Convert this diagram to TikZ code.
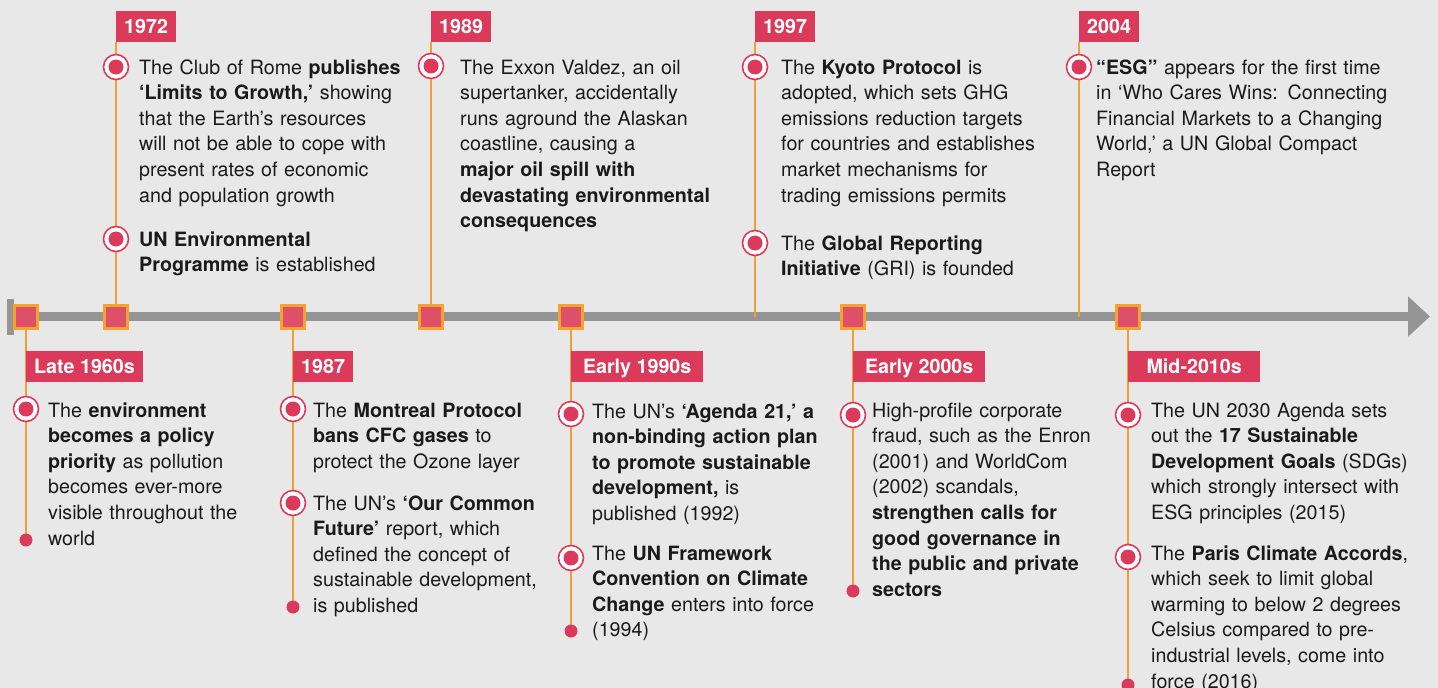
\documentclass[tikz,border=0pt]{standalone}
\usepackage{fontspec}
\setmainfont{TeX Gyre Heros}
\usetikzlibrary{arrows.meta}
\pgfdeclarelayer{back}
\pgfdeclarelayer{bg}
\pgfsetlayers{back,bg,main}
\definecolor{paper}{HTML}{E8E8E8}
\definecolor{crim}{HTML}{DB3A5B}
\definecolor{sqpink}{HTML}{DE5069}
\definecolor{amber}{HTML}{F5A32A}
\definecolor{stemor}{HTML}{EFA035}
\definecolor{axisgrey}{HTML}{959595}
\definecolor{ink}{HTML}{1A1A1A}
\newcommand\notefont{\fontsize{19.7}{25.6}\selectfont}
\newcommand\yearfont{\fontsize{19.7}{22}\selectfont\bfseries}
\begin{document}
\begin{tikzpicture}[x=1pt, y=-1pt,
	sq/.style={rectangle, fill=sqpink, draw=amber, line width=3pt, minimum size=23pt, inner sep=0pt},
	yearbox/.style={fill=crim, text=white, font=\yearfont, anchor=north west, inner xsep=8pt, inner ysep=0pt, minimum height=31pt, text height=14pt, text depth=0pt},
	widebox/.style={yearbox, minimum width=132pt},
	ring/.style={circle, fill=white, draw=crim, line width=1.6pt, minimum size=25pt, inner sep=0pt, path picture={\fill[crim] (path picture bounding box.center) circle (7.5pt);}},
	enddot/.style={circle, fill=crim, minimum size=13pt, inner sep=0pt},
	note/.style={anchor=base west, inner sep=0pt, text width=330pt, align=left, font=\notefont, text=ink},
	stem/.style={line width=1.5pt, color=stemor}]

	\useasboundingbox (0,0) rectangle (1438,688);
	\begin{pgfonlayer}{back}
		\fill[paper] (0,0) rectangle (1438,688);
	\end{pgfonlayer}

	% axis
	\node[rectangle, fill=axisgrey, minimum width=7pt, minimum height=36pt, inner sep=0pt](cap) at (10.5,316.5){};
	\coordinate (tip) at (1430,316.5);
	\coordinate (a97) at (755,316.5);
	\coordinate (a04) at (1079,316.5);

	\node[sq](s60) at (26,316.5){};
	\node[sq](s72) at (116,316.5){};
	\node[sq](s87) at (293,316.5){};
	\node[sq](s89) at (431,316.5){};
	\node[sq](s90) at (571,316.5){};
	\node[sq](s00) at (853,316.5){};
	\node[sq](s10) at (1128,316.5){};

	% year labels
	\node[yearbox](y72) at (116,11){1972};
	\node[yearbox](y89) at (431,11){1989};
	\node[yearbox](y97) at (755,11){1997};
	\node[yearbox](y04) at (1079,11){2004};
	\node[yearbox](y60) at (26,351){Late 1960s};
	\node[yearbox](y87) at (293,351){1987};
	\node[widebox](y90) at (571,351){Early 1990s};
	\node[widebox](y00) at (853,351){Early 2000s};
	\node[widebox](y10) at (1128,351){Mid-2010s};

	% end dots
	\node[enddot](d60) at (26,540){};
	\node[enddot](d87) at (293,607){};
	\node[enddot](d90) at (571,631){};
	\node[enddot](d00) at (853,591){};
	\node[enddot](d10) at (1128,685){};

	\begin{pgfonlayer}{bg}
		\draw[line width=8.5pt, color=axisgrey, -{Triangle[width=39pt, length=22pt]}] (cap.center) -- (tip);
		\draw[stem] (s72 |- y72.south) -- (s72.north);
		\draw[stem] (s89 |- y89.south) -- (s89.north);
		\draw[stem] (a97 |- y97.south) -- (a97);
		\draw[stem] (a04 |- y04.south) -- (a04);
		\draw[stem] (s60.south) -- (d60.center);
		\draw[stem] (s87.south) -- (d87.center);
		\draw[stem] (s90.south) -- (d90.center);
		\draw[stem] (s00.south) -- (d00.center);
		\draw[stem] (s10.south) -- (d10.center);
	\end{pgfonlayer}

	% Late 1960s
	\node[ring](r60) at (26,409){};
	\node[note](t60) at (48,417){The \textbf{environment}\\ \textbf{becomes a policy}\\ \textbf{priority} as pollution\\ becomes ever-more\\ visible throughout the\\ world};

	% 1972
	\node[ring](r72a) at (116,67){};
	\node[note](t72a) at (139,74){The Club of Rome \textbf{publishes}\\ \textbf{‘Limits to Growth,’} showing\\ that the Earth’s resources\\ will not be able to cope with\\ present rates of economic\\ and population growth};
	\node[ring](r72b) at (116,239){};
	\node[note](t72b) at (139,246){\textbf{UN Environmental}\\ \textbf{Programme} is established};

	% 1987
	\node[ring](r87a) at (293,409){};
	\node[note](t87a) at (313,417){The \textbf{Montreal Protocol}\\ \textbf{bans CFC gases} to\\ protect the Ozone layer};
	\node[ring](r87b) at (293,503){};
	\node[note](t87b) at (313,510){The UN’s \textbf{‘Our Common}\\ \textbf{Future’} report, which\\ defined the concept of\\ sustainable development,\\ is published};

	% 1989
	\node[ring](r89) at (431,66){};
	\node[note](t89) at (460,74){The Exxon Valdez, an oil\\ supertanker, accidentally\\ runs aground the Alaskan\\ coastline, causing a\\ \textbf{major oil spill with}\\ \textbf{devastating environmental}\\ \textbf{consequences}};

	% Early 1990s
	\node[ring](r90a) at (571,414){};
	\node[note](t90a) at (592,418){The UN’s \textbf{‘Agenda 21,’ a}\\ \textbf{non-binding action plan}\\ \textbf{to promote sustainable}\\ \textbf{development,} is\\ published (1992)};
	\node[ring](r90b) at (571,558){};
	\node[note](t90b) at (592,560){The \textbf{UN Framework}\\ \textbf{Convention on Climate}\\ \textbf{Change} enters into force\\ (1994)};

	% 1997
	\node[ring](r97a) at (755,67){};
	\node[note](t97a) at (781,74){The \textbf{Kyoto Protocol} is\\ adopted, which sets GHG\\ emissions reduction targets\\ for countries and establishes\\ market mechanisms for\\ trading emissions permits};
	\node[ring](r97b) at (755,243){};
	\node[note](t97b) at (781,250){The \textbf{Global Reporting}\\ \textbf{Initiative} (GRI) is founded};

	% Early 2000s
	\node[ring](r00) at (853,415){};
	\node[note](t00) at (872,417){High-profile corporate\\ fraud, such as the Enron\\ (2001) and WorldCom\\ (2002) scandals,\\ \textbf{strengthen calls for}\\ \textbf{good governance in}\\ \textbf{the public and private}\\ \textbf{sectors}};

	% 2004
	\node[ring](r04) at (1079,67){};
	\node[note](t04) at (1096,74){\textbf{“ESG”} appears for the first time\\ in ‘Who Cares Wins: Connecting\\ Financial Markets to a Changing\\ World,’ a UN Global Compact\\ Report};

	% Mid-2010s
	\node[ring](r10a) at (1128,415){};
	\node[note](t10a) at (1151,417){The UN 2030 Agenda sets\\ out the \textbf{17 Sustainable}\\ \textbf{Development Goals} (SDGs)\\ which strongly intersect with\\ ESG principles (2015)};
	\node[ring](r10b) at (1128,557){};
	\node[note](t10b) at (1151,560){The \textbf{Paris Climate Accords},\\ which seek to limit global\\ warming to below 2 degrees\\ Celsius compared to pre-\\ industrial levels, come into\\ force (2016)};

\end{tikzpicture}
\end{document}
